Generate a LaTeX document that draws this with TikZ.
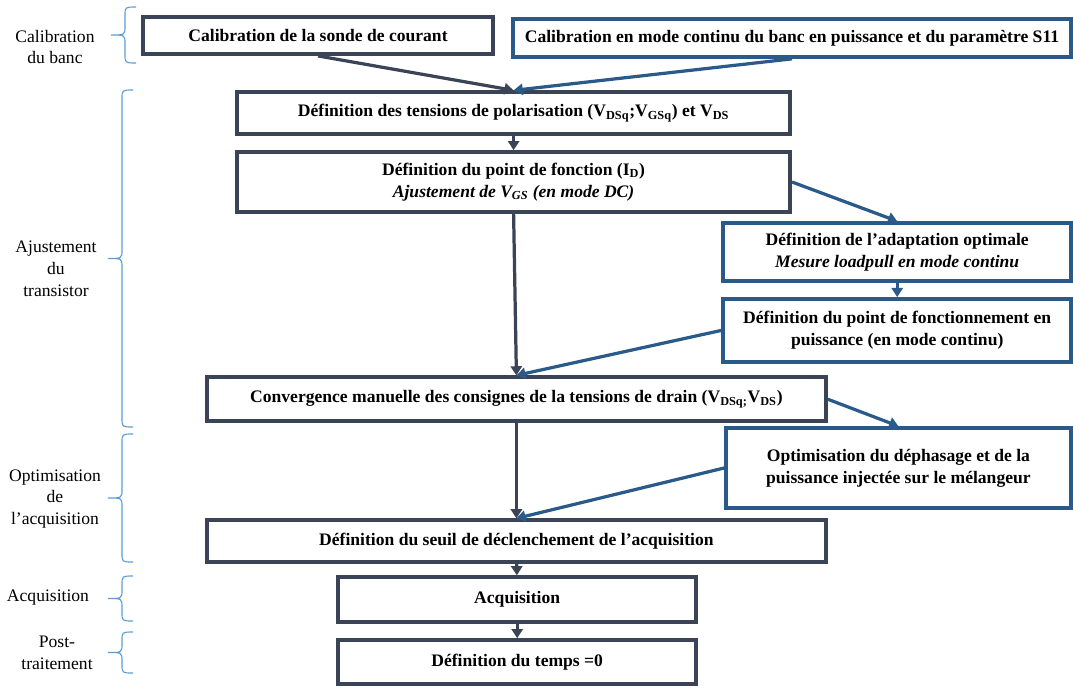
\documentclass[tikz,border=0pt]{standalone}
\usepackage{fontspec}
\setmainfont{Liberation Serif}
\usepackage{tikz}
\usetikzlibrary{arrows.meta}
\definecolor{dkline}{HTML}{3A4456}
\definecolor{bline}{HTML}{2A5A8A}
\definecolor{brc}{HTML}{5B9BD5}
\tikzset{
  dbox/.style  = {draw=dkline, line width=2.6pt, fill=white, inner sep=2pt,
                  align=center, font=\bfseries\fontsize{12.5}{15.5}\selectfont},
  bbox/.style  = {dbox, draw=bline},
  darr/.style  = {color=dkline, line width=2.3pt,
                  -{Triangle[length=6.5pt,width=8pt]}},
  barr/.style  = {darr, color=bline},
  grp/.style   = {draw=brc, line width=0.8pt},
  glbl/.style  = {align=center, inner sep=0pt,
                  font=\fontsize{12.5}{15.5}\selectfont},
}
% #1 x of the stem, #2 top, #3 bottom
\newcommand{\phasebrace}[3]{%
  \draw[grp] (#1+0.28,#2) .. controls (#1,#2) .. (#1,#2-0.22)
    -- (#1,{(#2+#3)/2+0.22}) .. controls (#1,{(#2+#3)/2}) .. (#1-0.35,{(#2+#3)/2})
    .. controls (#1,{(#2+#3)/2}) .. (#1,{(#2+#3)/2-0.22})
    -- (#1,#3+0.22) .. controls (#1,#3) .. (#1+0.28,#3);}

\begin{document}
\begin{tikzpicture}
  \useasboundingbox (0,0) rectangle (26.825,-17.225);
  % boxes
  \node[dbox, minimum width=8.75cm, minimum height=0.925cm] (cal) at (7.95,-0.89)
    {Calibration de la sonde de courant};
  \node[bbox, minimum width=13.95cm, minimum height=0.95cm] (calp) at (19.80,-0.95)
    {Calibration en mode continu du banc en puissance et du paramètre S11};
  \node[dbox, minimum width=13.83cm, minimum height=1.05cm] (polar) at (12.84,-2.83)
    {Définition des tensions de polarisation (V\textsubscript{DSq};V\textsubscript{GSq}) et V\textsubscript{DS}};
  \node[dbox, minimum width=13.83cm, minimum height=1.5cm] (point) at (12.84,-4.55)
    {Définition du point de fonction (I\textsubscript{D})\\
     \textit{Ajustement de V\textsubscript{GS} (en mode DC)}};
  \node[bbox, minimum width=8.7cm, minimum height=1.45cm] (adapt) at (22.43,-6.30)
    {Définition de l’adaptation optimale\\ \textit{Mesure loadpull en mode continu}};
  \node[bbox, minimum width=8.7cm, minimum height=1.575cm] (puiss) at (22.43,-8.26)
    {Définition du point de fonctionnement en\\ puissance (en mode continu)};
  \node[dbox, minimum width=15.475cm, minimum height=1.1cm] (conv) at (12.91,-9.98)
    {Convergence manuelle des consignes de la tensions de drain (V\textsubscript{DSq;}V\textsubscript{DS})};
  \node[bbox, minimum width=8.625cm, minimum height=2cm] (optim) at (22.46,-11.70)
    {Optimisation du déphasage et de la\\ puissance injectée sur le mélangeur};
  \node[dbox, minimum width=15.475cm, minimum height=1.05cm] (seuil) at (12.91,-13.53)
    {Définition du seuil de déclenchement de l’acquisition};
  \node[dbox, minimum width=8.95cm, minimum height=1.125cm] (acq) at (12.93,-14.99)
    {Acquisition};
  \node[dbox, minimum width=8.95cm, minimum height=1.1cm] (temps) at (12.93,-16.55)
    {Définition du temps =0};
  % arrows
  \draw[darr] (cal.south) -- (polar.north);
  \draw[barr] (calp.south) -- (polar.north);
  \draw[darr] (polar) -- (point);
  \draw[darr] (point.south) -- (conv.north);
  \draw[barr] (point.east) -- (adapt.north);
  \draw[barr] (adapt) -- (puiss);
  \draw[barr] (puiss.west) -- (conv.north);
  \draw[barr] (conv.east) -- (optim.north);
  \draw[darr] (conv.south) -- (seuil.north);
  \draw[barr] (optim.west) -- (seuil.north);
  \draw[darr] (seuil) -- (acq);
  \draw[darr] (acq) -- (temps);
  % phases on the left
  \node[glbl] (lcal) at (1.375,-1.175) {Calibration\\du banc};
  \node[glbl] (lajust) at (1.40,-6.725) {Ajustement\\du\\transistor};
  \node[glbl] (lopt) at (1.375,-12.475) {Optimisation\\de\\l’acquisition};
  \node[glbl] (lacq) at (1.20,-14.95) {Acquisition};
  \node[glbl] (lpost) at (1.425,-16.325) {Post-\\traitement};
  \phasebrace{3.125}{-0.175}{-1.575}
  \phasebrace{3.05}{-2.25}{-10.675}
  \phasebrace{3.05}{-10.85}{-14.05}
  \phasebrace{3.05}{-14.4}{-15.525}
  \phasebrace{3.05}{-15.8}{-16.825}
\end{tikzpicture}
\end{document}
